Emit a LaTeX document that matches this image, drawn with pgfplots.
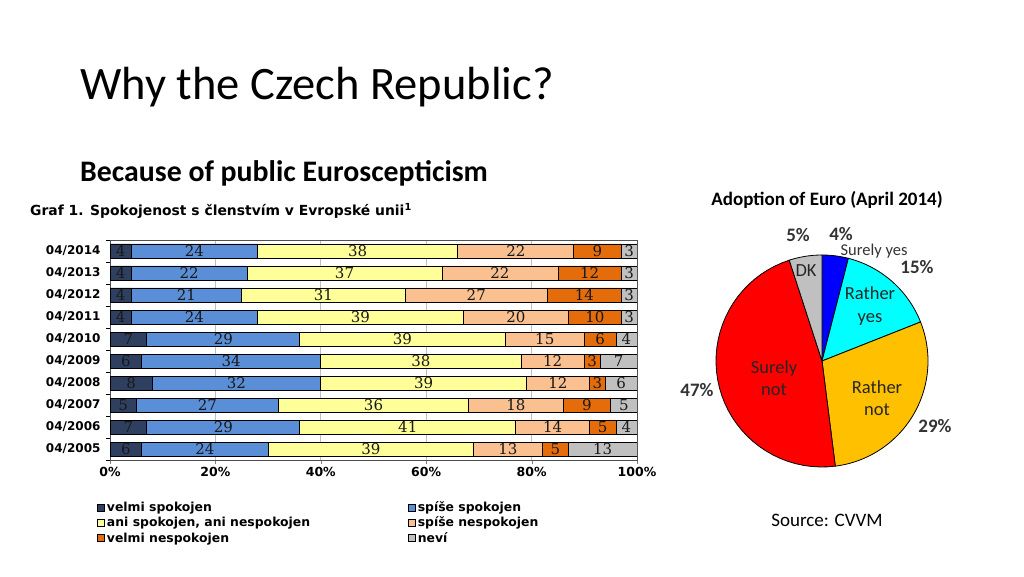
\documentclass[border=0pt]{standalone}
\usepackage{fontspec}
\setmainfont{Carlito}
\newfontfamily\verd{DejaVu Sans}
\newfontfamily\ser{DejaVu Serif}
\usepackage{pgfplots}
\pgfplotsset{compat=1.18}
\usepackage{pgfplotstable}

\definecolor{vs}{HTML}{2E3F5F}
\definecolor{ss}{HTML}{5A8ED6}
\definecolor{an}{HTML}{FFFF99}
\definecolor{sn}{HTML}{FAC08F}
\definecolor{vn}{HTML}{E46C0A}
\definecolor{nv}{HTML}{C0C0C0}
\definecolor{grid}{HTML}{505050}
\definecolor{pcyan}{HTML}{00FFFF}
\definecolor{pgold}{HTML}{FFC000}
\definecolor{pblue}{HTML}{0000FF}
\definecolor{pred}{HTML}{FF0000}
\definecolor{txt}{HTML}{333333}

% satisfaction with EU membership, rows 04/2005 (y=0) ... 04/2014 (y=9)
\pgfplotstableread{
y a b c d e f
0 6 24 39 13 5 13
1 7 29 41 14 5 4
2 5 27 36 18 9 5
3 8 32 39 12 3 6
4 6 34 38 12 3 7
5 7 29 39 15 6 4
6 4 24 39 20 10 3
7 4 21 31 27 14 3
8 4 22 37 22 12 3
9 4 24 38 22 9 3
}\spok

\begin{document}
\begin{tikzpicture}
\path[fill=white] (0,0) rectangle (1024pt,576pt);

\node[anchor=base west, inner sep=0, font=\fontsize{46.5}{50}\selectfont] at (80pt,476pt) {Why the Czech Republic?};
\node[anchor=base west, inner sep=0, font=\bfseries\fontsize{29.8}{32}\selectfont] at (80pt,394pt) {Because of public Euroscepticism};
\node[anchor=base west, inner sep=0, font=\verd\bfseries\fontsize{13.9}{15}\selectfont] at (30pt,360pt) {Graf 1. Spokojenost s členstvím v Evropské unii\textsuperscript{1}};

\begin{axis}[
  at={(110pt,116pt)}, anchor=south west,
  scale only axis, width=527pt, height=220pt,
  xbar stacked, bar width=14pt,
  xmin=0, xmax=100, ymin=-0.5, ymax=9.5,
  xtick={0,20,...,100},
  xticklabel={\pgfmathprintnumber{\tick}\%},
  /pgf/number format/assume math mode=true,
  ytick={0,...,9},
  yticklabels={04/2005,04/2006,04/2007,04/2008,04/2009,04/2010,04/2011,04/2012,04/2013,04/2014},
  minor ytick={-0.5,0.5,...,9.5},
  major tick length=4pt, minor tick length=4pt,
  ytick style={draw=none},
  minor y tick style={draw=black},
  tick align=outside, tick pos=left,
  xmajorgrids, major grid style={grid, line width=0.8pt},
  axis line style={grid, line width=0.8pt},
  ticklabel style={font=\verd\bfseries\fontsize{12.5}{14}\selectfont},
  yticklabel style={font=\verd\bfseries\fontsize{12}{14}\selectfont, xshift=-2pt},
  every axis plot/.append style={draw=black, line width=0.8pt},
  nodes near coords,
  point meta=explicit,
  every node near coord/.append style={font=\ser\fontsize{15}{15}\selectfont, text=black!90, inner sep=0pt},
  legend columns=2,
  legend cell align=left,
  legend style={at={(-0.03,-0.17)}, anchor=north west, draw=none, fill=none,
    font=\verd\bfseries\fontsize{12.4}{14}\selectfont, row sep=0pt,
    /tikz/column 2/.style={column sep=96pt}},
  legend image code/.code={\draw[#1, draw=black, line width=0.6pt] (0pt,-3.5pt) rectangle (7pt,3.5pt);},
]
\addplot[fill=vs] table[x=a, y=y, meta=a] {\spok};
\addplot[fill=ss] table[x=b, y=y, meta=b] {\spok};
\addplot[fill=an] table[x=c, y=y, meta=c] {\spok};
\addplot[fill=sn] table[x=d, y=y, meta=d] {\spok};
\addplot[fill=vn] table[x=e, y=y, meta=e] {\spok};
\addplot[fill=nv] table[x=f, y=y, meta=f] {\spok};
\legend{velmi spokojen, spíše spokojen, {ani spokojen, ani nespokojen}, spíše nespokojen, velmi nespokojen, neví}
\end{axis}

% pie: Adoption of Euro (April 2014); slices clockwise from the top
% surely yes 4, rather yes 15, rather not 29, surely not 47, DK 5
\begin{axis}[
  at={(822pt,215pt)}, anchor=center,
  scale only axis, width=212pt, height=212pt,
  xmin=-1, xmax=1, ymin=-1, ymax=1,
  hide axis, clip=false,
  every axis plot/.append style={draw=black, line width=0.8pt, samples=40, variable=\t},
]
\addplot[fill=pblue, domain=75.6:90] ({cos(t)},{sin(t)}) -- (axis cs:0,0) -- cycle;
\addplot[fill=pcyan, domain=21.6:75.6] ({cos(t)},{sin(t)}) -- (axis cs:0,0) -- cycle;
\addplot[fill=pgold, domain=-82.8:21.6] ({cos(t)},{sin(t)}) -- (axis cs:0,0) -- cycle;
\addplot[fill=pred, domain=-252:-82.8] ({cos(t)},{sin(t)}) -- (axis cs:0,0) -- cycle;
\addplot[fill=nv, domain=-270:-252] ({cos(t)},{sin(t)}) -- (axis cs:0,0) -- cycle;
\end{axis}

\begin{scope}[every node/.style={font=\fontsize{18.5}{22.5}\selectfont, text=txt, align=center, inner sep=0}]
\node[font=\bfseries\fontsize{19}{22}\selectfont, text=black] at (827pt,376pt) {Adoption of Euro (April 2014)};
\node[font=\bfseries\fontsize{19}{22}\selectfont] at (798pt,341pt) {5\%};
\node[font=\bfseries\fontsize{19}{22}\selectfont] at (841pt,342pt) {4\%};
\node[font=\fontsize{16.5}{19}\selectfont] at (874pt,325pt) {Surely yes};
\node[font=\bfseries\fontsize{19}{22}\selectfont] at (917pt,309pt) {15\%};
\node[text=black!85] at (806pt,305pt) {DK};
\node[text=black!85] at (870pt,270pt) {Rather\\yes};
\node[text=black!85] at (774pt,198pt) {Surely\\not};
\node[text=black!85] at (877pt,178pt) {Rather\\not};
\node[font=\bfseries\fontsize{19}{22}\selectfont] at (697pt,186pt) {47\%};
\node[font=\bfseries\fontsize{19}{22}\selectfont] at (935pt,150pt) {29\%};
\node[text=black, font=\fontsize{19}{22}\selectfont] at (827pt,56pt) {Source: CVVM};
\end{scope}
\end{tikzpicture}
\end{document}
